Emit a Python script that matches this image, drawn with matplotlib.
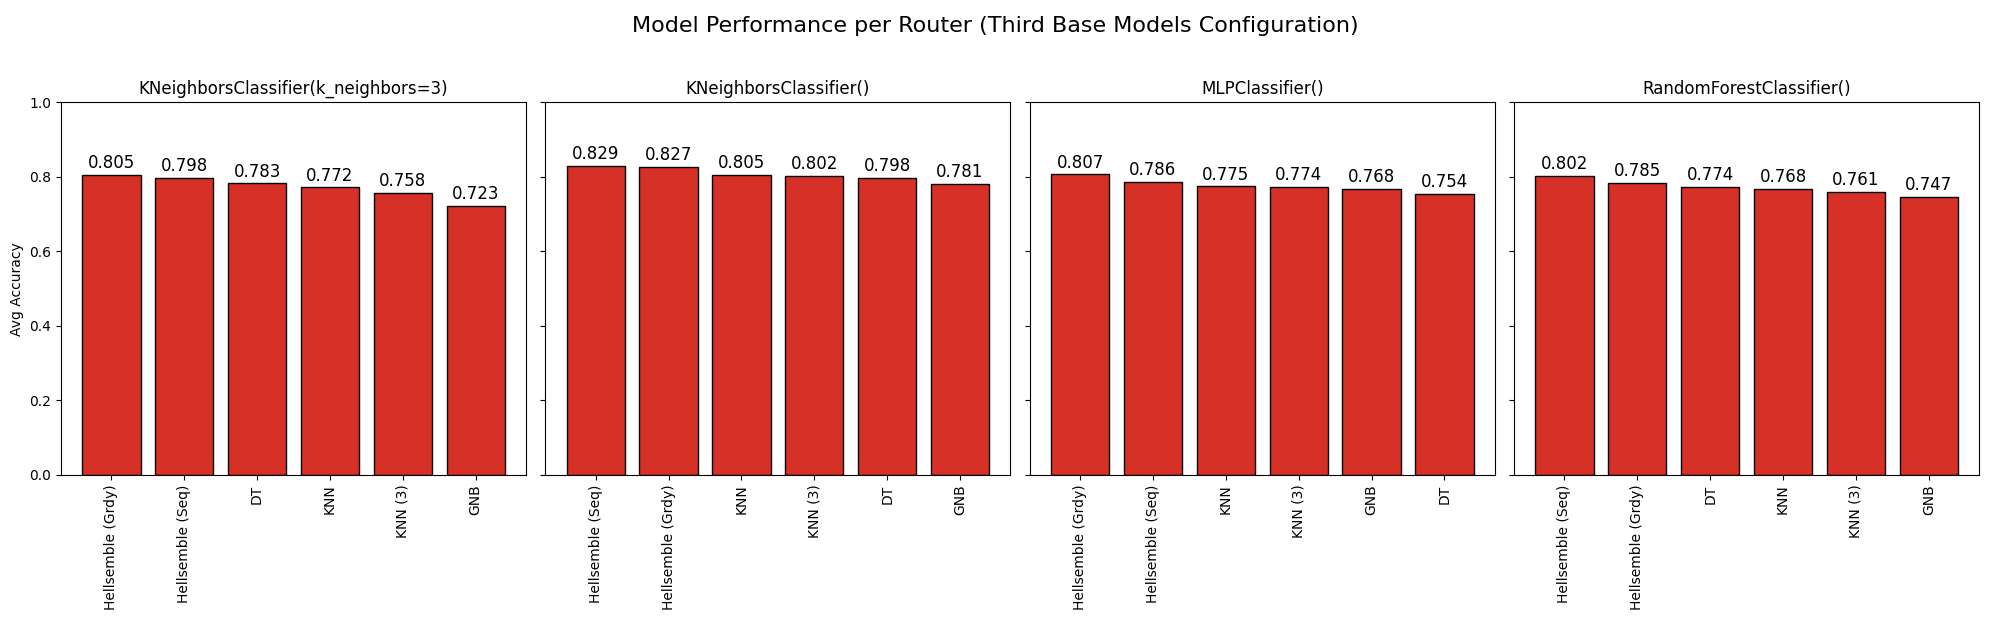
import matplotlib
matplotlib.use('Agg')
import matplotlib.pyplot as plt
import numpy as np

routers = ['KNeighborsClassifier(k_neighbors=3)', 'KNeighborsClassifier()',
           'MLPClassifier()', 'RandomForestClassifier()']

models_knn3 = ['Hellsemble (Grdy)', 'Hellsemble (Seq)', 'DT', 'KNN', 'KNN (3)', 'GNB']
acc_knn3 = [0.805, 0.798, 0.783, 0.772, 0.758, 0.723]

models_knn = ['Hellsemble (Seq)', 'Hellsemble (Grdy)', 'KNN', 'KNN (3)', 'DT', 'GNB']
acc_knn = [0.829, 0.827, 0.805, 0.802, 0.798, 0.781]

models_mlp = ['Hellsemble (Grdy)', 'Hellsemble (Seq)', 'KNN', 'KNN (3)', 'GNB', 'DT']
acc_mlp = [0.807, 0.786, 0.775, 0.774, 0.768, 0.754]

models_rf = ['Hellsemble (Seq)', 'Hellsemble (Grdy)', 'DT', 'KNN', 'KNN (3)', 'GNB']
acc_rf = [0.802, 0.785, 0.774, 0.768, 0.761, 0.747]

panels = [(models_knn3, acc_knn3), (models_knn, acc_knn),
          (models_mlp, acc_mlp), (models_rf, acc_rf)]

fig, axes = plt.subplots(1, 4, figsize=(19.9, 6.2), dpi=100, sharey=True)
fig.suptitle('Model Performance per Router (Third Base Models Configuration)', fontsize=16, y=0.975)

for ax, title, (names, vals) in zip(axes, routers, panels):
    x = np.arange(len(names))
    bars = ax.bar(x, vals, width=0.8, color='#d73027', edgecolor='black')
    ax.bar_label(bars, labels=['%.3f' % v for v in vals], padding=2, fontsize=12)
    ax.set_title(title, fontsize=12)
    ax.set_xticks(x)
    ax.set_xticklabels(names, rotation=90, fontsize=10)
    ax.set_ylim(0, 1)

axes[0].set_ylabel('Avg Accuracy', fontsize=10)

plt.subplots_adjust(left=0.0307, right=0.9945, top=0.8347, bottom=0.2339, wspace=0.042)
plt.savefig('out.png')
